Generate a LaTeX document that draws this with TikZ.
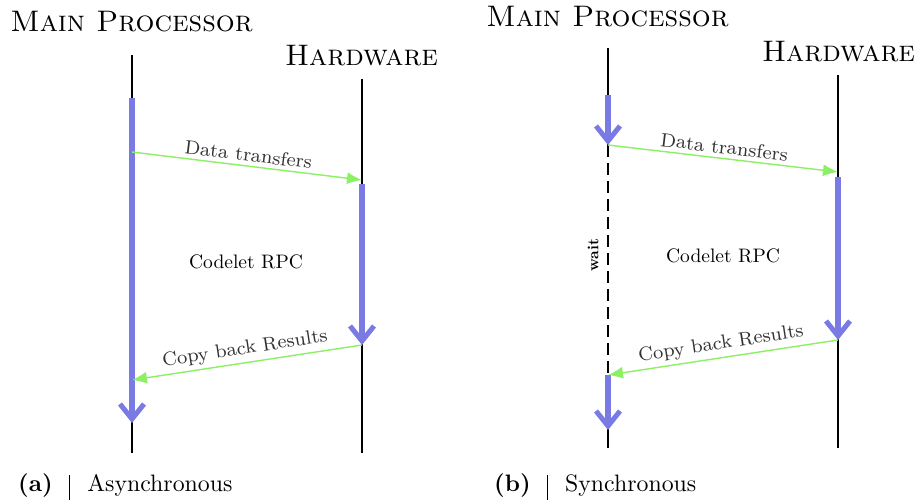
\documentclass[tikz,border=0pt]{standalone}
\usepackage{fontspec}
\usetikzlibrary{arrows.meta}
% Latin Modern at fixed design sizes
\newfontfamily\lmten{lmroman10-regular.otf}[BoldFont=lmroman10-bold.otf, SmallCapsFont=lmromancaps10-regular.otf]
\newfontfamily\lmeight{lmroman8-regular.otf}
\definecolor{flowblue}{RGB}{122,122,228}
\definecolor{msggreen}{RGB}{140,240,100}
\tikzset{
  lifeline/.style={line width=1.4pt, black},
  waitline/.style={line width=1.4pt, black, dash pattern=on 12pt off 6pt},
  active/.style={line width=5.5pt, flowblue, -{Straight Barb[length=15pt,width=24pt,line width=5pt]}},
  msg/.style={line width=1.4pt, msggreen, -{Latex[length=15pt,width=12pt]}},
  msgback/.style={line width=1.4pt, msggreen, {Latex[length=15pt,width=12pt]}-},
  title/.style={anchor=base, inner sep=0pt, font=\lmten\fontsize{29.7}{34}\selectfont},
  msglabel/.style={sloped, above, inner sep=4pt, text=black!80, font=\lmeight\fontsize{19.3}{22}\selectfont},
  midlabel/.style={inner sep=0pt, font=\lmten\fontsize{19.5}{24}\selectfont},
  waitlabel/.style={rotate=90, inner sep=0pt, font=\lmten\fontsize{15.5}{18}\selectfont\bfseries},
  caption/.style={anchor=base west, inner sep=0pt, font=\lmten\fontsize{23.8}{28}\selectfont},
}
\begin{document}
\begin{tikzpicture}[x=1pt,y=-1pt]
\useasboundingbox (0,0) rectangle (919,502);

% ---------- (a) asynchronous ----------
\node[title] (mpTitleA) at (131.5,32) {\textsc{Main Processor}};
\node[title] (hwTitleA) at (361.5,66) {\textsc{Hardware}};

\coordinate (mpTopA) at (132,55);
\coordinate (mpEndA) at (132,453);
\coordinate (hwTopA) at (362,79);
\coordinate (hwEndA) at (362,453);
\draw[lifeline] (mpTopA) -- (mpEndA);
\draw[lifeline] (hwTopA) -- (hwEndA);

\coordinate (mpRunA) at (132,98);
\coordinate (mpStopA) at (132,423);
\coordinate (mpSendA) at (132,152);
\coordinate (mpRecvA) at (132,380);
\coordinate (hwRecvA) at (362,180);
\coordinate (hwRunA) at (362,184);
\coordinate (hwSendA) at (362,345);

\draw[active] (mpRunA) -- (mpStopA);
\draw[active] (hwRunA) -- (hwSendA);
\draw[msg] (mpSendA) -- node[msglabel] {Data transfers} (hwRecvA);
\draw[msgback] (mpRecvA) -- node[msglabel] {Copy back Results} (hwSendA);
\node[midlabel] (rpcA) at (246,262) {Codelet RPC};

\node[caption] (capA) at (18,492)
  {\textbf{(a)}\hspace{16pt}\rule[-8pt]{1.5pt}{25pt}\hspace{17pt}Asynchronous};

% ---------- (b) synchronous ----------
\node[title] (mpTitleB) at (607.5,27) {\textsc{Main Processor}};
\node[title] (hwTitleB) at (838.5,62) {\textsc{Hardware}};

\coordinate (mpTopB) at (608,48);
\coordinate (mpEndB) at (608,448);
\coordinate (hwTopB) at (838,75);
\coordinate (hwEndB) at (838,448);
\coordinate (mpRunB) at (608,95);
\coordinate (mpSendB) at (608,145);
\coordinate (mpRecvB) at (608,375);
\coordinate (mpStopB) at (608,430);
\coordinate (hwRecvB) at (838,172);
\coordinate (hwRunB) at (838,177);
\coordinate (hwSendB) at (838,340);

\draw[lifeline] (mpTopB) -- (mpSendB);
\draw[waitline] (mpSendB) -- (mpRecvB);
\draw[lifeline] (mpRecvB) -- (mpEndB);
\draw[lifeline] (hwTopB) -- (hwEndB);
\node[waitlabel] (waitB) at (593,255) {wait};

\draw[active] (mpRunB) -- (mpSendB);
\draw[active] (mpRecvB) -- (mpStopB);
\draw[active] (hwRunB) -- (hwSendB);
\draw[msg] (mpSendB) -- node[msglabel] {Data transfers} (hwRecvB);
\draw[msgback] (mpRecvB) -- node[msglabel] {Copy back Results} (hwSendB);
\node[midlabel] (rpcB) at (723,256) {Codelet RPC};

\node[caption] (capB) at (494,492)
  {\textbf{(b)}\hspace{16pt}\rule[-8pt]{1.5pt}{25pt}\hspace{17pt}Synchronous};
\end{tikzpicture}
\end{document}
